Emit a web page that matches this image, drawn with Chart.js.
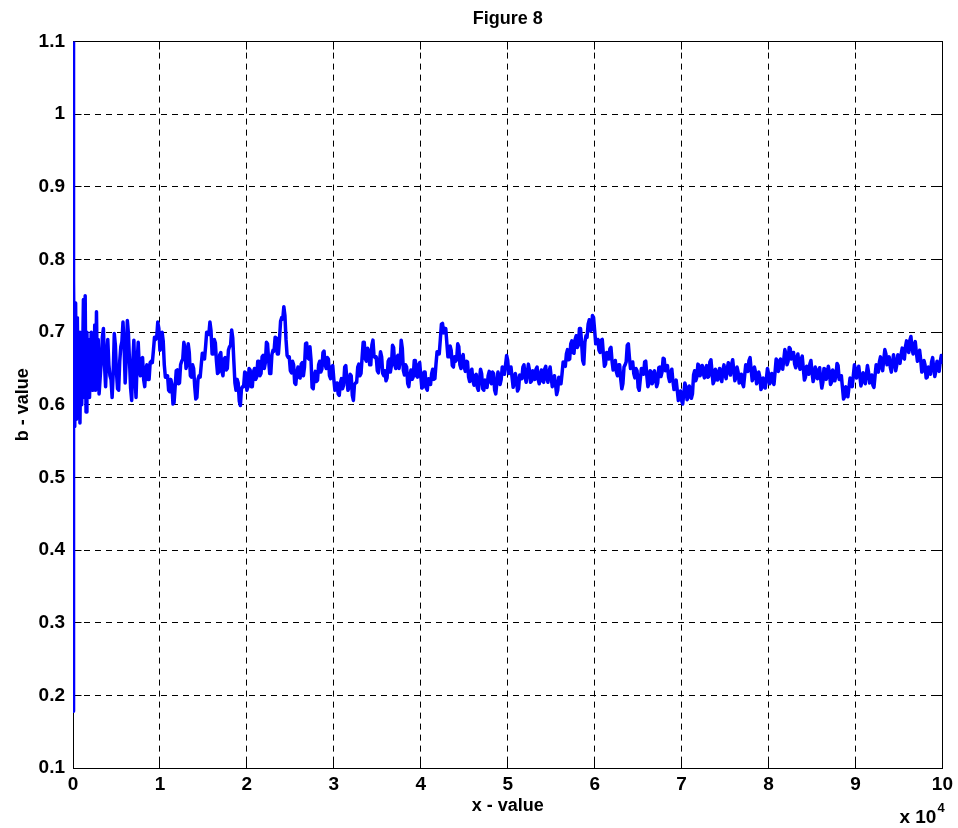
<!DOCTYPE html>
<html><head><meta charset="utf-8">
<script src="https://cdn.jsdelivr.net/npm/chart.js@4"></script>
<style>html,body{margin:0;padding:0;background:#fff;overflow:hidden}</style>
</head><body>
<canvas id="c" width="958" height="828"></canvas>
<script>
// ---- data ----
const titleText = 'Figure 8';
const xTitle = 'x - value';
const yTitle = 'b - value';
const xTicks = [0,10000,20000,30000,40000,50000,60000,70000,80000,90000,100000];
const xTickLabels = ['0','1','2','3','4','5','6','7','8','9','10'];
const yTicks = [0.1,0.2,0.3,0.4,0.5,0.6,0.7,0.8,0.9,1.0,1.1];
const yTickLabels = ['0.1','0.2','0.3','0.4','0.5','0.6','0.7','0.8','0.9','1','1.1'];

// start of the run (dense, large swings)
const startX = [0,20,60,100,200,300,400,500,600,700,800,900,1000,1100,1200,1300,1400,1500,1600,1700,1800,1900,2000,2100,2200,2300,2400,2500,2600,2700,2800,2900,3000];
const startB = [0.178,1.2,0.56,0.77,0.57,0.74,0.58,0.72,0.59,0.70,0.575,0.68,0.60,0.66,0.745,0.61,0.75,0.59,0.70,0.62,0.69,0.61,0.66,0.70,0.62,0.68,0.63,0.71,0.62,0.728,0.64,0.69,0.615];

// rest of the run, sampled every 250 from 3250 to 100000
const mainFrom = 3250, mainStep = 250;
const mainB = [
 0.66,0.705,0.625,0.69,0.64,0.61,0.698,0.645,
 0.62,0.68,0.714,0.63,0.716,0.66,0.606,0.689,0.61,0.686,0.64,0.665,0.625,0.655,0.635,0.66,0.675,0.69,0.714,0.675,
 0.70,0.655,0.64,0.62,0.635,0.601,0.625,0.648,0.63,0.66,0.686,0.65,0.684,0.64,0.655,0.625,0.61,0.64,0.655,0.666,
 0.68,0.70,0.714,0.67,0.69,0.66,0.645,0.672,0.64,0.665,0.65,0.68,0.703,0.66,0.62,0.63,0.599,0.625,0.645,0.62,
 0.65,0.625,0.645,0.635,0.66,0.64,0.666,0.65,0.686,0.662,0.643,0.675,0.693,0.67,0.69,0.72,0.735,0.69,0.665,0.647,
 0.66,0.63,0.645,0.638,0.656,0.64,0.684,0.665,0.68,0.624,0.64,0.632,0.655,0.645,0.672,0.655,0.665,0.64,0.652,0.635,
 0.625,0.615,0.63,0.622,0.652,0.635,0.624,0.64,0.606,0.63,0.652,0.64,0.665,0.686,0.66,0.675,0.655,0.689,0.665,0.647,
 0.66,0.666,0.64,0.633,0.66,0.645,0.682,0.655,0.665,0.65,0.689,0.647,0.655,0.629,0.64,0.635,0.661,0.64,0.655,0.64,
 0.625,0.645,0.62,0.632,0.643,0.635,0.656,0.67,0.69,0.712,0.705,0.685,0.666,0.675,0.652,0.66,0.684,0.655,0.665,0.652,
 0.66,0.638,0.645,0.633,0.64,0.624,0.635,0.643,0.62,0.628,0.64,0.632,0.645,0.62,0.63,0.64,0.635,0.648,0.655,0.661,
 0.645,0.638,0.63,0.635,0.622,0.64,0.652,0.638,0.643,0.648,0.633,0.64,0.649,0.635,0.642,0.633,0.649,0.636,0.645,0.638,
 0.632,0.628,0.62,0.635,0.643,0.655,0.67,0.662,0.684,0.672,0.69,0.679,0.705,0.685,0.656,0.695,0.711,0.702,0.723,0.702,
 0.685,0.675,0.689,0.67,0.656,0.668,0.677,0.66,0.656,0.645,0.655,0.635,0.629,0.655,0.682,0.665,0.655,0.643,0.65,0.624,
 0.635,0.645,0.659,0.64,0.629,0.645,0.633,0.64,0.63,0.652,0.645,0.663,0.65,0.638,0.645,0.633,0.628,0.62,0.612,0.606,
 0.615,0.624,0.61,0.622,0.615,0.647,0.638,0.654,0.645,0.643,0.65,0.638,0.659,0.645,0.633,0.645,0.643,0.636,0.648,0.641,
 0.65,0.645,0.656,0.648,0.638,0.645,0.635,0.629,0.64,0.65,0.661,0.648,0.638,0.645,0.632,0.638,0.624,0.63,0.636,0.643,
 0.635,0.631,0.645,0.661,0.65,0.656,0.662,0.67,0.66,0.677,0.668,0.656,0.665,0.655,0.663,0.65,0.638,0.648,0.656,0.645,
 0.638,0.645,0.647,0.635,0.631,0.649,0.64,0.645,0.631,0.645,0.64,0.654,0.635,0.624,0.611,0.618,0.624,0.63,0.64,0.649,
 0.645,0.64,0.632,0.636,0.642,0.645,0.635,0.627,0.64,0.65,0.659,0.652,0.662,0.67,0.66,0.652,0.658,0.659,0.655,0.663,
 0.67,0.665,0.68,0.675,0.689,0.678,0.682,0.672,0.668,0.662,0.647,0.655,0.638,0.645,0.659,0.65,0.647,0.652,0.66,0.656
];
// short-range jitter between the samples above (one value halfway between each pair)
const midB = [
 0.693,0.655,0.667,0.655,0.635,0.644,0.682,0.622,
 0.66,0.687,0.682,0.663,0.698,0.623,0.658,0.640,0.658,0.653,0.663,0.635,0.65,0.635,0.658,0.658,0.693,0.692,0.705,0.678,
 0.688,0.638,0.64,0.618,0.628,0.603,0.647,0.629,0.655,0.663,0.678,0.657,0.672,0.638,0.65,0.608,0.635,0.638,0.671,0.663,
 0.70,0.697,0.702,0.67,0.685,0.643,0.669,0.646,0.663,0.648,0.675,0.682,0.692,0.63,0.635,0.605,0.622,0.625,0.643,0.625,
 0.648,0.625,0.65,0.638,0.66,0.643,0.668,0.658,0.684,0.643,0.669,0.674,0.692,0.67,0.715,0.718,0.723,0.668,0.666,0.644,
 0.655,0.628,0.652,0.637,0.658,0.652,0.685,0.663,0.662,0.622,0.646,0.634,0.66,0.649,0.674,0.65,0.663,0.636,0.654,0.62,
 0.63,0.613,0.636,0.627,0.654,0.62,0.642,0.613,0.628,0.631,0.656,0.643,0.686,0.663,0.678,0.655,0.682,0.667,0.666,0.644,
 0.673,0.643,0.647,0.637,0.663,0.654,0.679,0.65,0.668,0.66,0.678,0.641,0.652,0.625,0.648,0.638,0.661,0.638,0.658,0.623,
 0.645,0.623,0.636,0.628,0.649,0.636,0.673,0.67,0.711,0.699,0.705,0.666,0.681,0.654,0.666,0.662,0.68,0.65,0.669,0.646,
 0.659,0.632,0.649,0.627,0.642,0.62,0.649,0.622,0.634,0.624,0.646,0.629,0.643,0.615,0.645,0.628,0.652,0.642,0.668,0.643,
 0.652,0.624,0.643,0.619,0.641,0.636,0.655,0.631,0.656,0.631,0.647,0.635,0.652,0.629,0.648,0.631,0.653,0.631,0.652,0.625,
 0.64,0.614,0.638,0.629,0.659,0.653,0.676,0.663,0.688,0.671,0.695,0.682,0.705,0.661,0.686,0.693,0.717,0.703,0.72,0.684,
 0.69,0.672,0.69,0.653,0.672,0.663,0.679,0.648,0.661,0.64,0.655,0.622,0.652,0.659,0.684,0.65,0.659,0.637,0.647,0.62,
 0.65,0.642,0.66,0.625,0.647,0.629,0.647,0.625,0.651,0.639,0.664,0.647,0.654,0.632,0.649,0.621,0.634,0.606,0.619,0.601,
 0.63,0.607,0.626,0.609,0.641,0.633,0.656,0.64,0.654,0.637,0.654,0.639,0.662,0.629,0.649,0.634,0.65,0.632,0.655,0.636,
 0.658,0.641,0.662,0.633,0.652,0.63,0.642,0.625,0.655,0.646,0.665,0.633,0.652,0.629,0.645,0.621,0.637,0.623,0.65,0.629,
 0.643,0.628,0.663,0.646,0.663,0.649,0.676,0.655,0.679,0.663,0.672,0.651,0.67,0.649,0.667,0.634,0.653,0.642,0.661,0.632,
 0.652,0.636,0.651,0.623,0.65,0.635,0.653,0.628,0.648,0.633,0.657,0.635,0.64,0.608,0.625,0.611,0.637,0.625,0.655,0.637,
 0.653,0.626,0.644,0.629,0.654,0.63,0.641,0.624,0.655,0.645,0.666,0.647,0.676,0.655,0.666,0.645,0.669,0.647,0.669,0.657,
 0.678,0.663,0.688,0.672,0.694,0.67,0.687,0.66,0.675,0.645,0.661,0.637,0.652,0.642,0.665,0.639,0.66,0.646,0.668
];

// ---- build points ----
const points = startX.map((x, i) => ({x, y: startB[i]}));
mainB.forEach((b, i) => {
  const x = mainFrom + i * mainStep;
  points.push({x, y: b});
  if (i < midB.length) points.push({x: x + mainStep / 2, y: midB[i]});
});

const FONT = '"Liberation Sans", Arial, sans-serif';
const al = v => Math.round(v - 0.5) + 0.5;

const boxPlugin = {
  id: 'box',
  beforeDatasetsDraw(chart) {
    const {ctx, chartArea: a, scales} = chart;
    const l = al(a.left), r = al(a.right), t = al(a.top), b = al(a.bottom);
    ctx.save();
    ctx.strokeStyle = '#000';
    ctx.lineWidth = 1;
    ctx.setLineDash([]);
    ctx.strokeRect(l, t, r - l, b - t);
    const L = 8;
    ctx.beginPath();
    xTicks.forEach(v => {
      const px = al(scales.x.getPixelForValue(v));
      ctx.moveTo(px, b); ctx.lineTo(px, b - L);
      ctx.moveTo(px, t); ctx.lineTo(px, t + L);
    });
    yTicks.forEach(v => {
      const py = al(scales.y.getPixelForValue(v));
      ctx.moveTo(l, py); ctx.lineTo(l + L, py);
      ctx.moveTo(r, py); ctx.lineTo(r - L, py);
    });
    ctx.stroke();
    ctx.restore();
  },
  afterDraw(chart) {
    const {ctx, chartArea: a} = chart;
    ctx.save();
    ctx.fillStyle = '#000';
    ctx.textBaseline = 'alphabetic';
    ctx.textAlign = 'right';
    ctx.font = 'bold 19px ' + FONT;
    ctx.fillText('x 10', a.right - 6, 823);
    ctx.textAlign = 'left';
    ctx.font = 'bold 13px ' + FONT;
    ctx.fillText('4', a.right - 5, 812);
    ctx.restore();
  }
};

new Chart(document.getElementById('c'), {
  type: 'line',
  data: {
    datasets: [{
      data: points,
      borderColor: '#0000ff',
      borderWidth: 3.5,
      borderJoinStyle: 'round',
      pointRadius: 0,
      tension: 0,
      fill: false
    }]
  },
  options: {
    responsive: false,
    animation: false,
    events: [],
    layout: {padding: {left: 0, right: 15, top: 0, bottom: 0}},
    plugins: {
      legend: {display: false},
      tooltip: {enabled: false},
      title: {
        display: true, text: titleText, color: '#000', fullSize: false,
        font: {family: FONT, size: 18, weight: 'bold'},
        padding: {top: 8, bottom: 12}
      }
    },
    scales: {
      x: {
        type: 'linear', min: 0, max: 100000,
        afterBuildTicks: s => { s.ticks = xTicks.map(v => ({value: v})); },
        afterFit: s => { s.height = 60; },
        ticks: {
          color: '#000', padding: 5, maxRotation: 0, autoSkip: false,
          font: {family: FONT, size: 19, weight: 'bold'},
          callback: (v) => xTickLabels[xTicks.indexOf(v)]
        },
        grid: {color: '#000', lineWidth: 1, drawTicks: false},
        border: {display: false, dash: [6, 5]},
        title: {display: true, text: xTitle, color: '#000',
          font: {family: FONT, size: 18, weight: 'bold'}, padding: {top: 0, bottom: 11}}
      },
      y: {
        type: 'linear', min: 0.1, max: 1.1,
        afterBuildTicks: s => { s.ticks = yTicks.map(v => ({value: v})); },
        afterFit: s => { s.width = 73; },
        ticks: {
          color: '#000', padding: 8, autoSkip: false,
          font: {family: FONT, size: 19, weight: 'bold'},
          callback: (v) => yTickLabels[yTicks.indexOf(v)]
        },
        grid: {color: '#000', lineWidth: 1, drawTicks: false},
        border: {display: false, dash: [6, 5]},
        title: {display: true, text: yTitle, color: '#000',
          font: {family: FONT, size: 18, weight: 'bold'}, padding: {top: 12, bottom: 0}}
      }
    }
  },
  plugins: [boxPlugin]
});
</script>
</body></html>
